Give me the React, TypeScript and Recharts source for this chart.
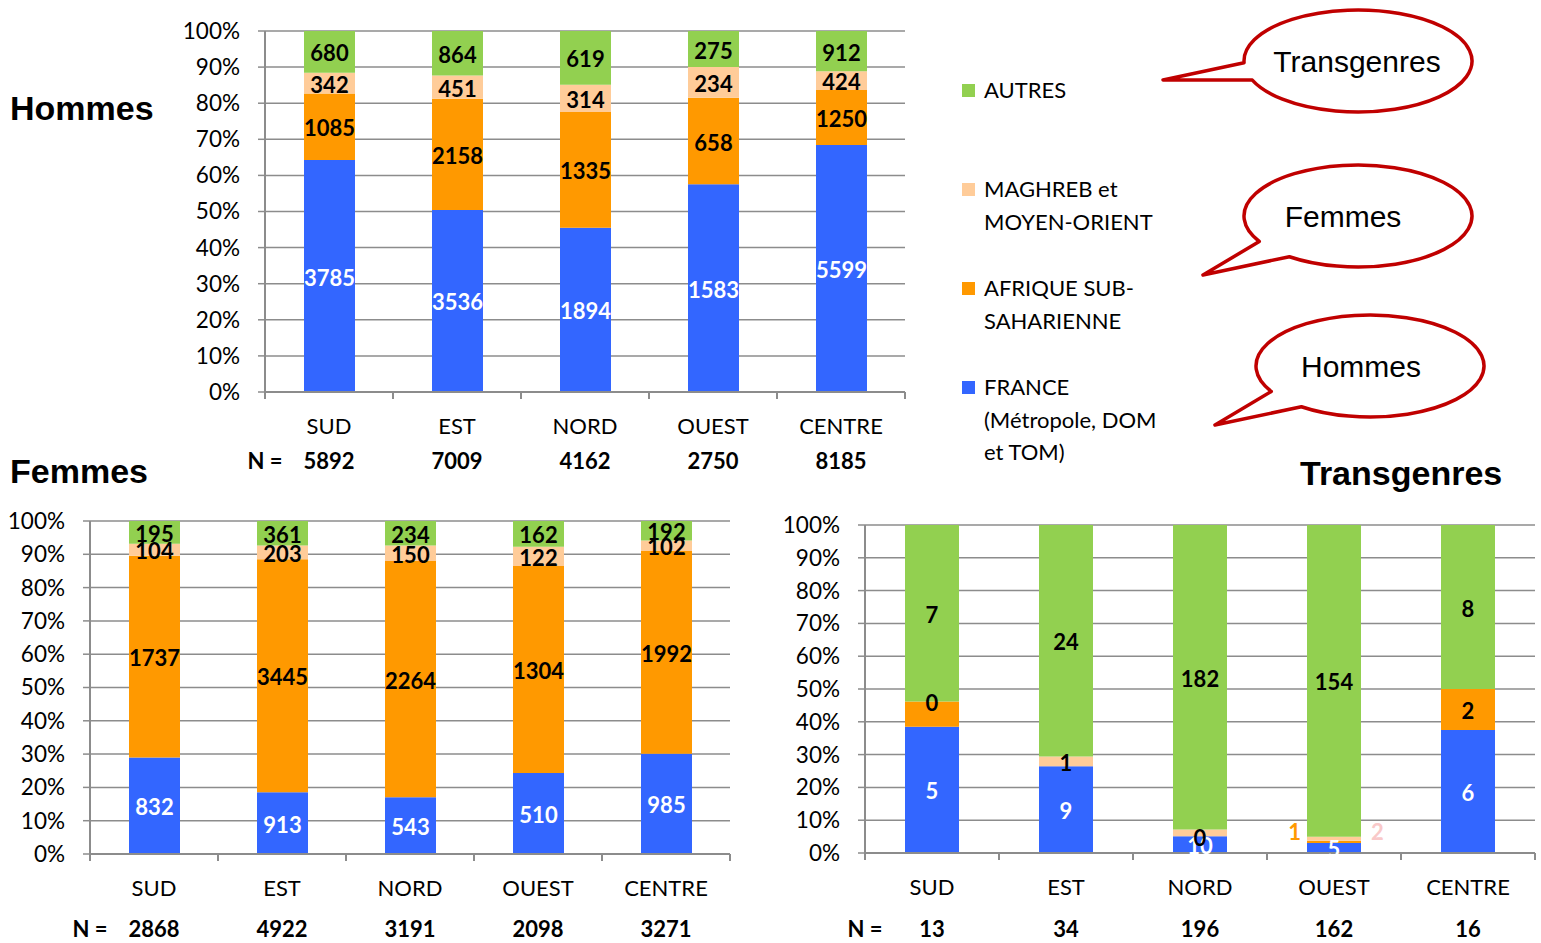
import React from "react";
import { BarChart, Bar, XAxis, YAxis, CartesianGrid, LabelList } from "recharts";

const REGIONS = ["SUD", "EST", "NORD", "OUEST", "CENTRE"];

// Hommes
const hommesFrance = [3785, 3536, 1894, 1583, 5599];
const hommesAfrique = [1085, 2158, 1335, 658, 1250];
const hommesMaghreb = [342, 451, 314, 234, 424];
const hommesAutres = [680, 864, 619, 275, 912];

// Femmes
const femmesFrance = [832, 913, 543, 510, 985];
const femmesAfrique = [1737, 3445, 2264, 1304, 1992];
const femmesMaghreb = [104, 203, 150, 122, 102];
const femmesAutres = [195, 361, 234, 162, 192];

// Transgenres
const transFrance = [5, 9, 10, 5, 6];
const transAfrique = [1, 0, 0, 1, 2];
const transMaghreb = [0, 1, 4, 2, 0];
const transAutres = [7, 24, 182, 154, 8];

// which value labels are printed on the transgenres chart
const transShown: Record<string, boolean[]> = {
  france: [true, true, true, true, true],
  afrique: [false, false, true, true, true],
  maghreb: [true, true, false, true, false],
  autres: [true, true, true, true, true],
};

const PCT_TICKS = [0, 0.1, 0.2, 0.3, 0.4, 0.5, 0.6, 0.7, 0.8, 0.9, 1];

const SERIES = [
  { key: "france", color: "#3366FF", text: "#FFFFFF", legend: ["FRANCE", "(Métropole, DOM", "et TOM)"] },
  { key: "afrique", color: "#FF9900", text: "#000000", legend: ["AFRIQUE SUB-", "SAHARIENNE"] },
  { key: "maghreb", color: "#FFCC99", text: "#000000", legend: ["MAGHREB et", "MOYEN-ORIENT"] },
  { key: "autres", color: "#92D050", text: "#000000", legend: ["AUTRES"] },
];

const FONT = "Lato, 'Open Sans', sans-serif";
const ARIAL = "'Liberation Sans', Arial, sans-serif";
const GRID = "#8C8C8C";

type Values = Record<string, number[]>;

const buildRows = (v: Values) =>
  REGIONS.map((region, i) => ({
    region,
    france: v.france[i],
    afrique: v.afrique[i],
    maghreb: v.maghreb[i],
    autres: v.autres[i],
  }));

const totalsOf = (v: Values) =>
  REGIONS.map((_, i) => v.france[i] + v.afrique[i] + v.maghreb[i] + v.autres[i]);

const regionTick = (totals: number[], nOffset: number) => (props: any) => {
  const { x, y, payload, index } = props;
  const n = totals.length;
  const half = payload?.offset ?? (props.width ? props.width / n / 2 : 64);
  return (
    <g>
      <line x1={x - half} x2={x - half} y1={y} y2={y + 7} stroke={GRID} strokeWidth={2} />
      {index === n - 1 && (
        <line x1={x + half} x2={x + half} y1={y} y2={y + 7} stroke={GRID} strokeWidth={2} />
      )}
      <text x={x} y={y + 42} textAnchor="middle" fontSize={22} fontFamily={FONT} fill="#000">
        {payload.value}
      </text>
      <text x={x} y={y + nOffset} textAnchor="middle" fontSize={22} fontWeight={700} fontFamily={FONT} fill="#000">
        {totals[index]}
      </text>
      {index === 0 && (
        <text x={x - half} y={y + nOffset} textAnchor="middle" fontSize={22} fontWeight={700} fontFamily={FONT} fill="#000">
          N =
        </text>
      )}
    </g>
  );
};

// Zero-height segments get no rectangle, so every label of a stack is drawn
// from the top segment (never empty): its rect gives the vertical scale.
const stackLabels = (values: Values, trans: boolean) => (props: any) => {
  const { x, y, width, height, index } = props;
  const top = values.autres[index];
  if (!top || !height) return null;
  const total = SERIES.reduce((s, k) => s + values[k.key][index], 0);
  const plotH = (height * total) / top;
  const base = y + plotH;
  let cum = 0;
  const out: React.ReactNode[] = [];
  SERIES.forEach((s) => {
    const v = values[s.key][index];
    const y0 = base - (plotH * cum) / total;
    cum += v;
    const y1 = base - (plotH * cum) / total;
    if (trans && !transShown[s.key][index]) return;
    let tx = x + width / 2;
    let ty = (y0 + y1) / 2;
    let fill = s.text;
    let anchor: "middle" | "end" | "start" = "middle";
    // the two thin OUEST slices carry their labels beside the bar
    if (trans && REGIONS[index] === "OUEST" && s.key === "afrique") {
      tx = x - 6;
      ty -= 11;
      fill = "#FF9900";
      anchor = "end";
    }
    if (trans && REGIONS[index] === "OUEST" && s.key === "maghreb") {
      tx = x + width + 10;
      ty -= 8;
      fill = "#F9C9C9";
      anchor = "start";
    }
    out.push(
      <text
        key={s.key}
        x={tx}
        y={ty}
        dy={9.5}
        textAnchor={anchor}
        fontSize={22}
        fontWeight={700}
        fontFamily={FONT}
        fill={fill}
      >
        {v}
      </text>
    );
  });
  return <g>{out}</g>;
};

interface StackProps {
  values: Values;
  width: number;
  height: number;
  top: number;
  axisWidth: number;
  right: number;
  xHeight: number;
  barSize: number;
  nOffset: number;
  trans?: boolean;
}

const StackChart = ({ values, width, height, top, axisWidth, right, xHeight, barSize, nOffset, trans = false }: StackProps) => {
  const rows = buildRows(values);
  const totals = totalsOf(values);
  return (
    <BarChart
      width={width}
      height={height}
      data={rows}
      stackOffset="expand"
      margin={{ top, right, bottom: 0, left: 0 }}
    >
      <CartesianGrid vertical={false} stroke={GRID} strokeWidth={1.5} />
      <XAxis
        dataKey="region"
        interval={0}
        height={xHeight}
        tickSize={0}
        tickMargin={0}
        tickLine={false}
        axisLine={{ stroke: GRID, strokeWidth: 2 }}
        tick={regionTick(totals, nOffset)}
      />
      <YAxis
        width={axisWidth}
        domain={[0, 1]}
        ticks={PCT_TICKS}
        interval={0}
        tickFormatter={(v: number) => `${Math.round(v * 100)}%`}
        tickSize={7}
        tickMargin={18}
        tickLine={{ stroke: GRID, strokeWidth: 1.5 }}
        axisLine={{ stroke: GRID, strokeWidth: 2 }}
        tick={{ fontSize: 22.5, fill: "#000", fontFamily: FONT }}
      />
      {SERIES.map((s) => (
        <Bar key={s.key} dataKey={s.key} stackId="a" fill={s.color} barSize={barSize} isAnimationActive={false}>
          {s.key === "autres" && <LabelList dataKey="autres" content={stackLabels(values, trans)} />}
        </Bar>
      ))}
    </BarChart>
  );
};

const BUBBLES = [
  { cx: 1358, cy: 61, tip: [1163, 80], a1: 178, a2: 158, text: "Transgenres", tx: 1357 },
  { cx: 1358, cy: 216, tip: [1203, 275], a1: 150, a2: 127, text: "Femmes", tx: 1343 },
  { cx: 1370, cy: 366, tip: [1215, 425], a1: 150, a2: 127, text: "Hommes", tx: 1361 },
];

const bubblePath = (b: (typeof BUBBLES)[number], rx: number, ry: number) => {
  const pt = (deg: number) => {
    const r = (deg * Math.PI) / 180;
    return [b.cx + rx * Math.cos(r), b.cy + ry * Math.sin(r)];
  };
  const [x1, y1] = pt(b.a1);
  const [x2, y2] = pt(b.a2);
  return `M ${x1} ${y1} L ${b.tip[0]} ${b.tip[1]} L ${x2} ${y2} A ${rx} ${ry} 0 1 0 ${x1} ${y1} Z`;
};

const title = (text: string, style: React.CSSProperties) => (
  <div
    style={{
      position: "absolute",
      fontFamily: ARIAL,
      fontWeight: 700,
      fontSize: 34,
      lineHeight: "40px",
      color: "#000",
      whiteSpace: "nowrap",
      ...style,
    }}
  >
    {text}
  </div>
);

export default function App() {
  const hommes = { france: hommesFrance, afrique: hommesAfrique, maghreb: hommesMaghreb, autres: hommesAutres };
  const femmes = { france: femmesFrance, afrique: femmesAfrique, maghreb: femmesMaghreb, autres: femmesAutres };
  const trans = { france: transFrance, afrique: transAfrique, maghreb: transMaghreb, autres: transAutres };

  return (
    <div style={{ position: "absolute", left: 0, top: 0, width: 1541, height: 943, background: "#fff", overflow: "hidden" }}>
      <div style={{ position: "absolute", left: 0, top: 0 }}>
        <StackChart values={hommes} width={920} height={480} top={31} axisWidth={265} right={15} xHeight={88} barSize={51} nOffset={77} />
      </div>
      <div style={{ position: "absolute", left: 0, top: 480 }}>
        <StackChart values={femmes} width={745} height={463} top={41} axisWidth={90} right={15} xHeight={89} barSize={51} nOffset={83} />
      </div>
      <div style={{ position: "absolute", left: 770, top: 480 }}>
        <StackChart values={trans} width={771} height={463} top={45} axisWidth={95} right={6} xHeight={90} barSize={54} nOffset={84} trans />
      </div>

      {title("Hommes", { left: 10, top: 88 })}
      {title("Femmes", { left: 10, top: 451 })}
      {title("Transgenres", { left: 1300, top: 453 })}

      {/* legend, top entry first */}
      <div style={{ position: "absolute", left: 962, top: 74, fontFamily: FONT, fontSize: 22, color: "#000" }}>
        {[...SERIES].reverse().map((s) => (
          <div key={s.key} style={{ position: "relative", height: 99, lineHeight: "32.5px", paddingLeft: 22 }}>
            <span
              style={{ position: "absolute", left: 0, top: 10, width: 13, height: 13, background: s.color }}
            />
            {s.legend.map((l) => (
              <div key={l} style={{ whiteSpace: "nowrap" }}>
                {l}
              </div>
            ))}
          </div>
        ))}
      </div>

      <svg width={1541} height={943} style={{ position: "absolute", left: 0, top: 0, pointerEvents: "none" }}>
        {BUBBLES.map((b) => (
          <g key={b.text}>
            <path d={bubblePath(b, 114, 51)} fill="#fff" stroke="#C00000" strokeWidth={3.5} strokeLinejoin="round" />
            <text x={b.tx} y={b.cy + 11} textAnchor="middle" fontFamily={ARIAL} fontSize={30} fill="#000">
              {b.text}
            </text>
          </g>
        ))}
      </svg>
    </div>
  );
}
